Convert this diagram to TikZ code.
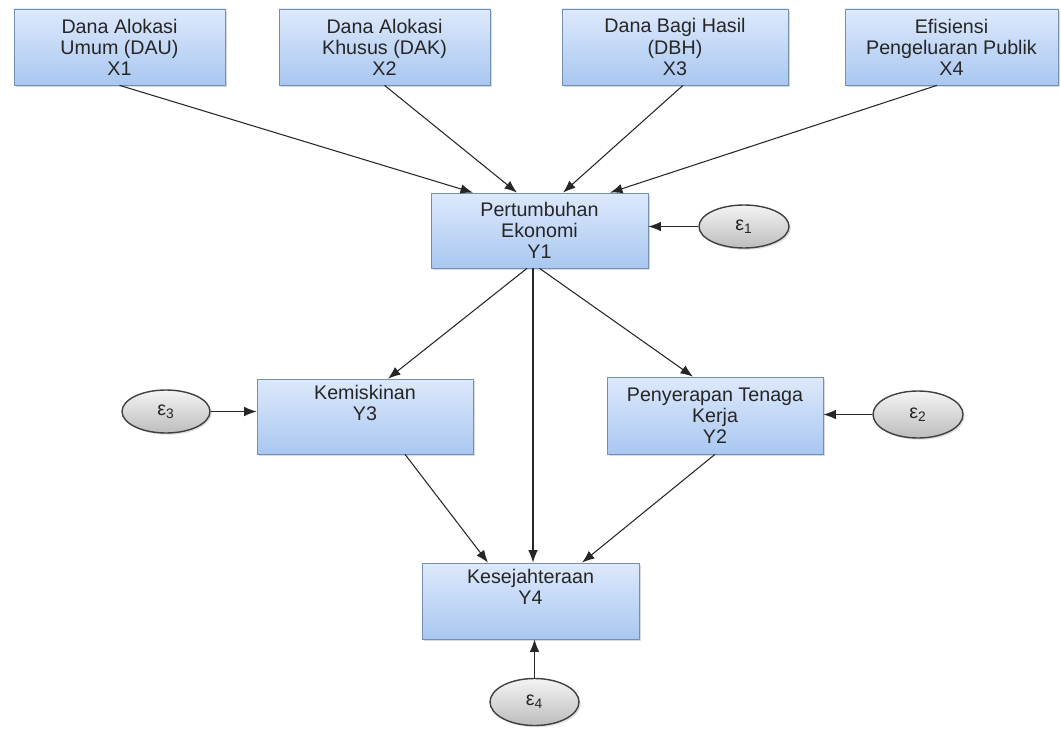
\documentclass[tikz,border=0pt]{standalone}
\usepackage{fontspec}
\setmainfont{Liberation Sans}
\usetikzlibrary{arrows.meta,shadows,shapes.geometric}

\definecolor{boxtop}{HTML}{DDE9FB}
\definecolor{boxbot}{HTML}{A9C7F1}
\definecolor{boxedge}{HTML}{7390AE}
\definecolor{errtop}{HTML}{F4F4F4}
\definecolor{errbot}{HTML}{BDBDBD}

\begin{document}
\begin{tikzpicture}[
    vbox/.style={draw=boxedge, rectangle, top color=boxtop, bottom color=boxbot,
        align=center, inner sep=0pt, text=black!85,
        font=\fontsize{11.2}{12}\selectfont,
        drop shadow={opacity=0.3, shadow xshift=1.2pt, shadow yshift=-1.2pt}},
    errnode/.style={draw=black!75, line width=0.8pt, ellipse, inner sep=0pt,
        top color=errtop, bottom color=errbot, text=black!85,
        font=\fontsize{11.2}{12}\selectfont,
        drop shadow={opacity=0.25, shadow xshift=1pt, shadow yshift=-1pt}},
    link/.style={-{Latex[length=2.5mm,width=1.9mm]}, line width=0.6pt, black!85}
]
    \useasboundingbox (0,0) rectangle (21.22,-14.58);

    % Dana Alokasi Umum
    \node[vbox, minimum width=4.22cm, minimum height=1.52cm] (x1) at (2.39,-0.94) {Dana Alokasi\\Umum (DAU)\\X1};
    % Dana Alokasi Khusus
    \node[vbox, minimum width=4.22cm, minimum height=1.52cm] (x2) at (7.69,-0.94) {Dana Alokasi\\Khusus (DAK)\\X2};
    % Dana Bagi Hasil
    \node[vbox, minimum width=4.52cm, minimum height=1.52cm] (x3) at (13.5,-0.94) {Dana Bagi Hasil\\(DBH)\\X3};
    % Efisiensi Pengeluaran Publik
    \node[vbox, minimum width=4.26cm, minimum height=1.52cm] (x4) at (19.03,-0.94) {Efisiensi\\Pengeluaran Publik\\X4};

    % Pertumbuhan Ekonomi
    \node[vbox, minimum width=4.34cm, minimum height=1.5cm] (y1) at (10.79,-4.61) {Pertumbuhan\\Ekonomi\\Y1};
    \node[errnode, minimum width=1.8cm, minimum height=0.86cm] (e1) at (14.88,-4.53) {ε\textsubscript{1}};

    % Kemiskinan
    \node[vbox, minimum width=4.32cm, minimum height=1.5cm] (y3) at (7.3,-8.33) {Kemiskinan\\Y3\\\strut};
    \node[errnode, minimum width=1.76cm, minimum height=0.86cm] (e3) at (3.32,-8.23) {ε\textsubscript{3}};

    % Penyerapan Tenaga Kerja
    \node[vbox, minimum width=4.32cm, minimum height=1.54cm] (y2) at (14.3,-8.31) {Penyerapan Tenaga\\Kerja\\Y2};
    \node[errnode, minimum width=1.8cm, minimum height=0.94cm] (e2) at (18.36,-8.29) {ε\textsubscript{2}};

    % Kesejahteraan
    \node[vbox, minimum width=4.34cm, minimum height=1.52cm] (y4) at (10.61,-12.02) {Kesejahteraan\\Y4\\\strut};
    \node[errnode, minimum width=1.78cm, minimum height=0.94cm] (e4) at (10.69,-14.04) {ε\textsubscript{4}};

    % Paths into Y1
    \draw[link] (x1.south) -- ([xshift=-1.33cm]y1.north);
    \draw[link] (x2.south) -- ([xshift=-0.45cm]y1.north);
    \draw[link] ([xshift=0.16cm]x3.south) -- ([xshift=0.47cm]y1.north);
    \draw[link] ([xshift=-0.29cm]x4.south) -- ([xshift=1.41cm]y1.north);

    % Paths out of Y1
    \draw[link] ([xshift=-0.25cm]y1.south) -- ([xshift=0.46cm]y3.north);
    \draw[link] ([xshift=-0.13cm]y1.south) -- ([xshift=-0.13cm]y1.south |- y4.north);
    \draw[link] (y1.south) -- ([xshift=-0.44cm]y2.north);

    % Paths into Y4
    \draw[link] ([xshift=0.8cm]y3.south) -- ([xshift=-0.85cm]y4.north);
    \draw[link] (y2.south) -- ([xshift=1.03cm]y4.north);

    % Error terms
    \draw[link] (e1.west) -- (e1.west -| y1.east);
    \draw[link] (e3.east) -- (e3.east -| y3.west);
    \draw[link] (e2.west) -- (e2.west -| y2.east);
    \draw[link] (e4.north) -- (e4.north |- y4.south);
\end{tikzpicture}
\end{document}
